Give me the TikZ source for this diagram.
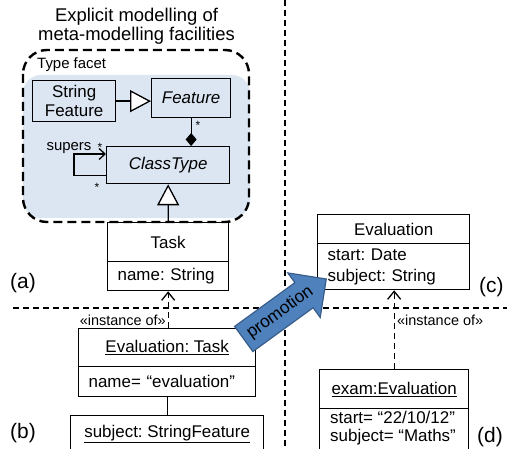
\documentclass[tikz,border=0pt]{standalone}
\usepackage{fontspec}
\setmainfont{Liberation Sans}
\usetikzlibrary{arrows.meta,calc}

\definecolor{facetblue}{HTML}{DCE6F2}
\definecolor{promofill}{HTML}{4F81BD}
\definecolor{promoline}{HTML}{385D8A}

\begin{document}
\frenchspacing
\begin{tikzpicture}[x=1bp,y=-1bp,
  maintxt/.style={font=\fontsize{17}{21}\selectfont},
  smalltxt/.style={font=\fontsize{15}{17}\selectfont, inner sep=0pt},
  tinytxt/.style={font=\fontsize{14.5}{16}\selectfont, inner sep=0pt},
  startxt/.style={font=\fontsize{12}{12}\selectfont, inner sep=0pt},
  parttxt/.style={font=\fontsize{21}{24}\selectfont, inner sep=0pt},
  umlbox/.style={draw, line width=1.3bp, rectangle, inner sep=0pt, anchor=north west, maintxt},
  headbox/.style={umlbox, align=center},
  bodybox/.style={umlbox, align=left, inner xsep=10bp},
  sepline/.style={line width=1.2bp, dash pattern=on 6bp off 4bp},
  facetline/.style={line width=2.4bp, dash pattern=on 9bp off 5bp, rounded corners=24bp},
  conn/.style={line width=1.3bp},
  generalize/.style={conn, -{Triangle[open, length=21bp, width=22bp, fill=white, line width=1.3bp]}},
  instanceof/.style={conn, dash pattern=on 6bp off 4bp, -{Straight Barb[length=8bp, width=13bp, line width=1.3bp]}},
  compose/.style={conn, {Diamond[length=13bp, width=11bp]}-},
  selfref/.style={conn, -{Straight Barb[length=6bp, width=11bp, line width=1.3bp]}},
  promo/.style={fill=promofill, draw=promoline, line width=1.2bp, line join=miter}
]
\useasboundingbox (0,0) rectangle (507,449);
\clip (0,0) rectangle (507,449);

% type facet region
\fill[facetblue, rounded corners=18bp] (23,75) rectangle (250,218);
\draw[facetline] (23,50) rectangle (249,222);

\node[font=\fontsize{18.5}{19.5}\selectfont, align=center, inner sep=0pt] (title) at (136.5,26)
  {Explicit modelling of\\meta-modelling facilities};
\node[smalltxt, anchor=west] (facetname) at (37,65) {Type facet};

% separators between the four parts
\draw[sepline] (13,308) -- (507,308);
\draw[sepline] (285,0) -- (285,449);

% (a) meta-model with type facet
\node[headbox, minimum width=83bp, minimum height=41bp, font=\fontsize{17}{19}\selectfont] (strfeat) at (32,80) {String\\Feature};
\node[headbox, minimum width=79bp, minimum height=39bp] (feature) at (151,78) {\itshape Feature};
\node[headbox, minimum width=123bp, minimum height=37bp] (classtype) at (106,146) {\itshape ClassType};
\node[headbox, minimum width=121bp, minimum height=39bp] (taskH) at (107,222) {Task};
\node[bodybox, minimum width=121bp, minimum height=29bp, text width=101bp] (taskB) at (107,261) {name: String};

\draw[generalize] (strfeat.east) -- (strfeat.east -| feature.west);
\draw[compose] (classtype.north -| feature.south) -- (feature.south);
\node[startxt] (featstar) at (198,125) {*};
\draw[selfref] ([yshift=9bp]classtype.south west) -- ++(-32,0) |- ([yshift=-8bp]classtype.north west);
\node[smalltxt] (supers) at (69,148) {supers};
\node[startxt] (supstar) at (100,147) {*};
\node[startxt] (substar) at (97,187) {*};
\draw[generalize] (taskH.north) -- (classtype.south);

\node[parttxt, anchor=west] (partA) at (10,283) {(a)};

% (b) instance of Task
\node[headbox, minimum width=177bp, minimum height=38bp] (evtaskH) at (78,328) {\underline{Evaluation: Task}};
\node[bodybox, minimum width=177bp, minimum height=30bp, text width=157bp] (evtaskB) at (78,366) {name= “evaluation”};
\node[headbox, minimum width=193bp, minimum height=36bp] (subject) at (70,415) {\underline{subject: StringFeature}};
\draw[instanceof] (evtaskH.north -| taskB.south) -- (taskB.south);
\node[tinytxt, anchor=east] (instA) at (166,320) {«instance of»};
\draw[conn] (evtaskB.south) -- (subject.north -| evtaskB.south);

\node[parttxt, anchor=west] (partB) at (10,433) {(b)};

% (c) promoted class
\node[headbox, minimum width=152bp, minimum height=29bp] (evalH) at (317,214) {Evaluation};
\node[bodybox, minimum width=152bp, minimum height=46bp, text width=132bp] (evalB) at (317,243) {start: Date\\subject: String};
\node[parttxt, anchor=west] (partC) at (479,287) {(c)};

% (d) instance of the promoted class
\node[headbox, minimum width=149bp, minimum height=39bp] (examH) at (319,369) {\underline{exam:Evaluation}};
\node[umlbox, minimum width=149bp, minimum height=50bp] (examB) at (319,408) {};
\node[maintxt, align=left, anchor=north west, inner sep=0pt, font=\fontsize{17}{18.5}\selectfont] (examAttrs) at (330,411)
  {start= “22/10/12”\\subject= “Maths”};
\draw[instanceof] (examH.north) -- (examH.north |- evalB.south);
\node[tinytxt, anchor=west] (instD) at (397,320) {«instance of»};
\node[parttxt, anchor=west] (partD) at (477,437) {(d)};

% promotion block arrow
\begin{scope}[shift={(285,309)}, rotate=36]
  \filldraw[promo] (-51,-15.5) -- (23.5,-15.5) -- (23.5,-27.5) -- (51,0)
    -- (23.5,27.5) -- (23.5,15.5) -- (-51,15.5) -- cycle;
  \node[rotate=36, font=\fontsize{17.5}{17.5}\selectfont, inner sep=0pt] (promotion) at (-6,0) {promotion};
\end{scope}
\end{tikzpicture}
\end{document}
